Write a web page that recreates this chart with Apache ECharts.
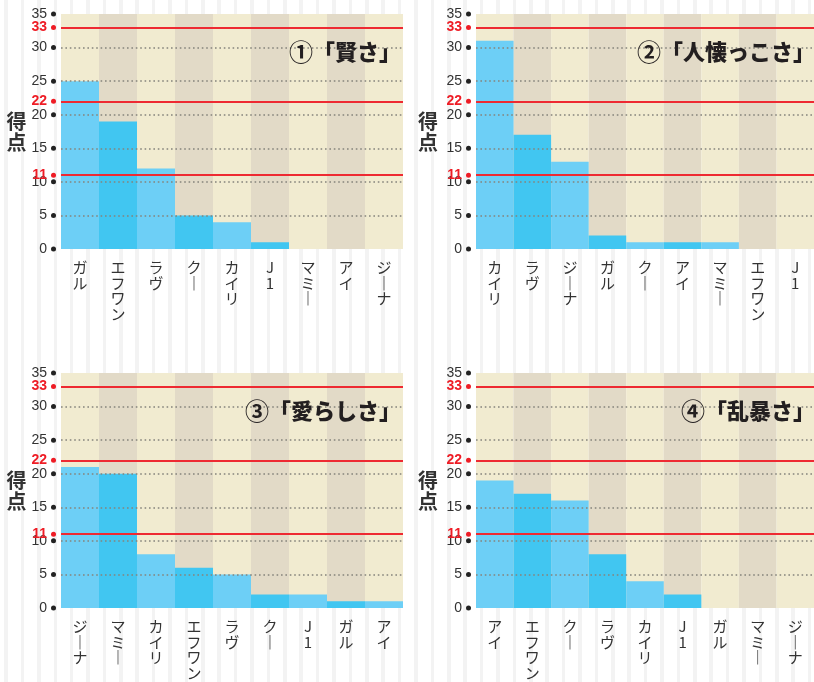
<!DOCTYPE html>
<html>
<head>
<meta charset="utf-8">
<script src="https://cdn.jsdelivr.net/npm/echarts@6/dist/echarts.min.js"></script>
<style>
  html, body { margin: 0; padding: 0; }
  body {
    background: repeating-linear-gradient(90deg,
      #ffffff 0px, #ffffff 4.3px,
      #f3f3f3 4.3px, #f3f3f3 7.8px,
      #ffffff 7.8px, #ffffff 16.4px);
  }
  #chart { width: 814px; height: 682px; }
</style>
</head>
<body>
<div id="chart"></div>
<script>
// Scores per character for four traits (each trait totals 66 points)
const titleMarks = ['①', '②', '③', '④'];
const titleNames = ['「賢さ」', '「人懐っこさ」', '「愛らしさ」', '「乱暴さ」'];

const namesKashikosa = ['ガル', 'エフワン', 'ラヴ', 'クー', 'カイリ', 'J1', 'マミー', 'アイ', 'ジーナ'];
const scoresKashikosa = [25, 19, 12, 5, 4, 1, 0, 0, 0];

const namesHitonatsukkosa = ['カイリ', 'ラヴ', 'ジーナ', 'ガル', 'クー', 'アイ', 'マミー', 'エフワン', 'J1'];
const scoresHitonatsukkosa = [31, 17, 13, 2, 1, 1, 1, 0, 0];

const namesItoshisa = ['ジーナ', 'マミー', 'カイリ', 'エフワン', 'ラヴ', 'クー', 'J1', 'ガル', 'アイ'];
const scoresItoshisa = [21, 20, 8, 6, 5, 2, 2, 1, 1];

const namesRanbousa = ['アイ', 'エフワン', 'クー', 'ラヴ', 'カイリ', 'J1', 'ガル', 'マミー', 'ジーナ'];
const scoresRanbousa = [19, 17, 16, 8, 4, 2, 0, 0, 0];

const yAxisName = '得点';
const yMax = 35;
const yStep = 5;
const thresholdStep = 11;
const thresholds = [11, 22, 33];

const panelNames = [namesKashikosa, namesHitonatsukkosa, namesItoshisa, namesRanbousa];
const panelScores = [scoresKashikosa, scoresHitonatsukkosa, scoresItoshisa, scoresRanbousa];

// layout of the four panels
const panelBoxes = [
  { left: 61,  top: 14,  titleRight: 408, titleTop: 34,  nameGap: 34 },
  { left: 476, top: 14,  titleRight: -6,  titleTop: 34,  nameGap: 38 },
  { left: 61,  top: 373, titleRight: 408, titleTop: 393, nameGap: 34 },
  { left: 476, top: 373, titleRight: -6,  titleTop: 393, nameGap: 38 }
];

const numFont = '"Liberation Sans Narrow", "Liberation Sans", Arial, sans-serif';
const jpFont = '"Noto Sans CJK JP", "Noto Sans", sans-serif';
const barColors = ['#6dcff6', '#41c6f1'];
const bandColors = ['#f1ebd0', '#e2dac7'];

// stack katakana vertically; the long vowel mark takes its vertical form
function verticalText(s) {
  return s.split('').map(c => (c === 'ー' ? '{v|\uFE31}' : c)).join('\n');
}

const option = {
  animation: false,
  backgroundColor: 'transparent',
  title: [], grid: [], xAxis: [], yAxis: [], series: []
};

panelBoxes.forEach((box, i) => {
  option.title.push({
    text: '{m|' + titleMarks[i] + '}{t|' + titleNames[i] + '}',
    right: box.titleRight,
    top: box.titleTop,
    textStyle: {
      rich: {
        m: { fontSize: 24, fontFamily: jpFont, color: '#231f20', fontWeight: 'bold', lineHeight: 26, verticalAlign: 'middle' },
        t: { fontSize: 22, fontFamily: jpFont, color: '#231f20', fontWeight: 900, lineHeight: 26, verticalAlign: 'middle' }
      }
    }
  });

  option.grid.push({ left: box.left, top: box.top, width: 342, height: 235 });

  option.xAxis.push({
    type: 'category',
    gridIndex: i,
    data: panelNames[i],
    axisLine: { show: false },
    axisTick: { show: false },
    splitArea: { show: true, areaStyle: { color: bandColors } },
    axisLabel: {
      interval: 0,
      margin: 11,
      verticalAlign: 'top',
      fontSize: 15,
      lineHeight: 15.5,
      color: '#333',
      fontFamily: jpFont,
      formatter: verticalText,
      rich: {
        v: { fontSize: 17, lineHeight: 15.5, color: '#333', fontFamily: jpFont }
      }
    }
  });

  // main score axis with dotted guide lines
  option.yAxis.push({
    type: 'value',
    gridIndex: i,
    min: 0, max: yMax, interval: yStep,
    z: 3,
    name: yAxisName.split('').join('\n'),
    nameLocation: 'middle',
    nameRotate: 0,
    nameGap: box.nameGap,
    nameTextStyle: { fontSize: 20, fontWeight: 'bold', lineHeight: 21, color: '#333', fontFamily: jpFont },
    axisLine: { show: false },
    axisTick: { show: false },
    splitLine: {
      show: true, showMinLine: false, showMaxLine: false,
      lineStyle: { color: '#85847c', width: 1.6, type: [1.6, 2.8] }
    },
    axisLabel: {
      margin: 5,
      formatter: v => '{n|' + v + '}{d|}',
      rich: {
        n: { fontSize: 14, color: '#333', fontFamily: numFont, padding: [0, 4, 0, 0], verticalAlign: 'middle' },
        d: { width: 5, height: 5, borderRadius: 2.5, backgroundColor: '#222', verticalAlign: 'middle' }
      }
    }
  });

  // threshold axis: red labels for 11 / 22 / 33
  option.yAxis.push({
    type: 'value',
    gridIndex: i,
    position: 'left',
    min: 0, max: yMax, interval: thresholdStep,
    z: 4,
    axisLine: { show: false },
    axisTick: { show: false },
    splitLine: { show: false },
    axisLabel: {
      margin: 5,
      showMinLabel: false,
      showMaxLabel: false,
      formatter: v => (thresholds.indexOf(v) >= 0 ? '{n|' + v + '}{d|}' : ''),
      rich: {
        n: { fontSize: 14, fontWeight: 'bold', color: '#ee1c25', fontFamily: numFont, padding: [0, 4, 0, 0], verticalAlign: 'middle' },
        d: { width: 5, height: 5, borderRadius: 2.5, backgroundColor: '#ee1c25', verticalAlign: 'middle' }
      }
    }
  });

  option.series.push({
    type: 'bar',
    xAxisIndex: i,
    yAxisIndex: i * 2,
    barWidth: '100%',
    data: panelScores[i],
    itemStyle: { color: p => barColors[p.dataIndex % 2] },
    markLine: {
      silent: true,
      symbol: 'none',
      label: { show: false },
      lineStyle: { color: '#ee2a32', width: 2, type: 'solid' },
      data: thresholds.map(t => ({ yAxis: t }))
    }
  });
});

const chart = echarts.init(document.getElementById('chart'));
chart.setOption(option);
</script>
</body>
</html>
